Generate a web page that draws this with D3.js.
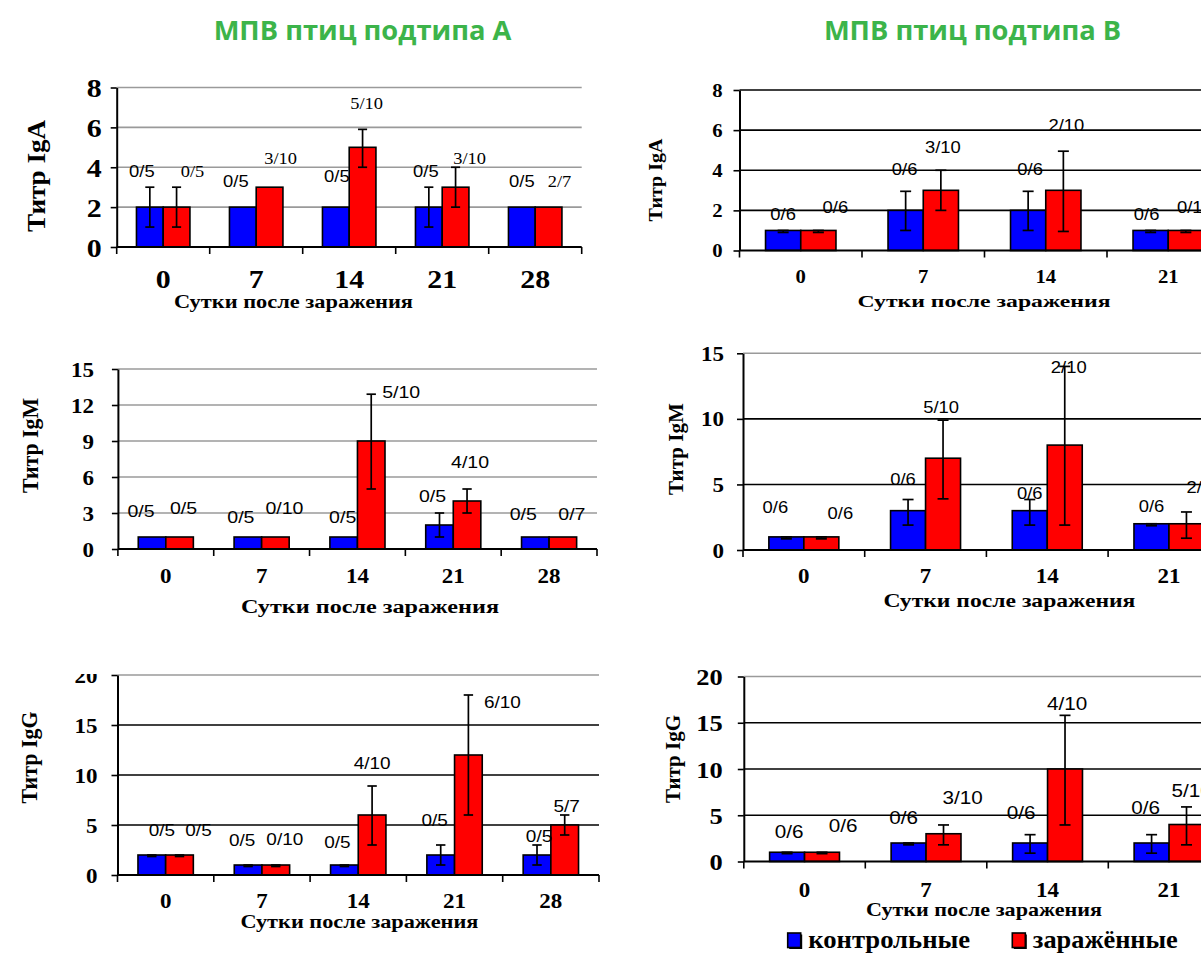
<!DOCTYPE html>
<html>
<head>
<meta charset="utf-8">
<script src="https://cdn.jsdelivr.net/npm/d3@7"></script>
<style>
  html, body { margin: 0; padding: 0; background: #fff; }
  svg { display: block; }
</style>
</head>
<body>
<svg id="fig" width="1201" height="957"></svg>
<script>
// ---------- shared categories and texts ----------
const days = ["0", "7", "14", "21", "28"];
const seriesNames = ["контрольные", "заражённые"];
const groupTitles = ["МПВ птиц подтипа А", "МПВ птиц подтипа В"];
const xTitleText = "Сутки после заражения";
const yTitles = ["Титр IgA", "Титр IgM", "Титр IgG"];

// ---------- subtype A ----------
const aIgA_ctrl = [2, 2, 2, 2, 2];
const aIgA_ctrlLo = [1, 2, 2, 1, 2];
const aIgA_ctrlHi = [3, 2, 2, 3, 2];
const aIgA_inf = [2, 3, 5, 3, 2];
const aIgA_infLo = [1, 3, 4, 2, 2];
const aIgA_infHi = [3, 3, 5.9, 4, 2];
const aIgA_ctrlTags = ["0/5", "0/5", "0/5", "0/5", "0/5"];
const aIgA_infTags = ["0/5", "3/10", "5/10", "3/10", "2/7"];
const aIgA_ticks = [0, 2, 4, 6, 8];

const aIgM_ctrl = [1, 1, 1, 2, 1];
const aIgM_ctrlLo = [1, 1, 1, 1, 1];
const aIgM_ctrlHi = [1, 1, 1, 3, 1];
const aIgM_inf = [1, 1, 9, 4, 1];
const aIgM_infLo = [1, 1, 5, 3, 1];
const aIgM_infHi = [1, 1, 12.9, 5, 1];
const aIgM_ctrlTags = ["0/5", "0/5", "0/5", "0/5", "0/5"];
const aIgM_infTags = ["0/5", "0/10", "5/10", "4/10", "0/7"];
const aIgM_ticks = [0, 3, 6, 9, 12, 15];

const aIgG_ctrl = [2, 1, 1, 2, 2];
const aIgG_ctrlLo = [1.85, 0.85, 0.85, 1, 1];
const aIgG_ctrlHi = [2, 1, 1, 3, 3];
const aIgG_inf = [2, 1, 6, 12, 5];
const aIgG_infLo = [1.85, 0.85, 3, 6, 4];
const aIgG_infHi = [2, 1, 8.9, 18, 6];
const aIgG_ctrlTags = ["0/5", "0/5", "0/5", "0/5", "0/5"];
const aIgG_infTags = ["0/5", "0/10", "4/10", "6/10", "5/7"];
const aIgG_ticks = [0, 5, 10, 15, 20];

// ---------- subtype B ----------
const bIgA_ctrl = [1, 2, 2, 1];
const bIgA_ctrlLo = [0.9, 1, 1, 0.9];
const bIgA_ctrlHi = [1, 2.95, 2.95, 1];
const bIgA_inf = [1, 3, 3, 1];
const bIgA_infLo = [0.9, 2, 0.95, 0.9];
const bIgA_infHi = [1, 4, 4.95, 1];
const bIgA_ctrlTags = ["0/6", "0/6", "0/6", "0/6"];
const bIgA_infTags = ["0/6", "3/10", "2/10", "0/10"];
const bIgA_ticks = [0, 2, 4, 6, 8];

const bIgM_ctrl = [1, 3, 3, 2];
const bIgM_ctrlLo = [0.85, 1.9, 1.9, 1.85];
const bIgM_ctrlHi = [1, 3.85, 3.85, 2];
const bIgM_inf = [1, 7, 8, 2];
const bIgM_infLo = [0.85, 3.9, 1.9, 0.9];
const bIgM_infHi = [1, 9.9, 14, 2.9];
const bIgM_ctrlTags = ["0/6", "0/6", "0/6", "0/6"];
const bIgM_infTags = ["0/6", "5/10", "2/10", "2/10"];
const bIgM_ticks = [0, 5, 10, 15];

const bIgG_ctrl = [1, 2, 2, 2];
const bIgG_ctrlLo = [0.85, 1.8, 0.9, 0.9];
const bIgG_ctrlHi = [1, 2, 2.9, 2.9];
const bIgG_inf = [1, 3, 10, 4];
const bIgG_infLo = [0.85, 1.8, 3.95, 1.8];
const bIgG_infHi = [1, 3.95, 15.8, 5.9];
const bIgG_ctrlTags = ["0/6", "0/6", "0/6", "0/6"];
const bIgG_infTags = ["0/6", "3/10", "4/10", "5/10"];
const bIgG_ticks = [0, 5, 10, 15, 20];

// ---------- styling ----------
const SERIF = '"Liberation Serif","Times New Roman",Times,serif';
const SANS = '"Liberation Sans",Arial,Helvetica,sans-serif';
const TITLE_FONT = '"Open Sans","Noto Sans",sans-serif';
const COLORS = ["#0000ff", "#ff0000"];
const GREEN = "#3cb44a";
const GRID_GRAY = "#9a9a9a";

// panel frames and annotation placement (tag heights in titre units, tag shifts in px)
const panels = [
  { name: "A-IgA", max: 8, ticks: aIgA_ticks, title: yTitles[0],
    series: [[aIgA_ctrl, aIgA_ctrlLo, aIgA_ctrlHi, aIgA_ctrlTags], [aIgA_inf, aIgA_infLo, aIgA_infHi, aIgA_infTags]],
    left: 116.7, band: 93, y0: 247, yTop: 87.5, right: 581.7, gridTop: GRID_GRAY, grid: GRID_GRAY,
    yTickFont: 26, yTickGap: 15, xTickFont: 26, xTickBase: 288,
    xTitle: { cx: 293.5, base: 308, w: 239, fs: 18 }, yTitle: { cx: 37, cy: 176, len: 112, fs: 22 },
    tagFont: 16, tagFamilies: [SANS, SERIF],
    tagDx: [[-8, -7, 1, -3, 0], [16, 11, 4, 14, 11]],
    tagAt: [[3.53, 2.99, 3.28, 3.53, 3.03], [3.53, 4.15, 6.91, 4.15, 3.02]] },
  { name: "A-IgM", max: 15, ticks: aIgM_ticks, title: yTitles[1],
    series: [[aIgM_ctrl, aIgM_ctrlLo, aIgM_ctrlHi, aIgM_ctrlTags], [aIgM_inf, aIgM_infLo, aIgM_infHi, aIgM_infTags]],
    left: 117.9, band: 95.82, y0: 549, yTop: 369, right: 597, gridTop: GRID_GRAY, grid: GRID_GRAY,
    yTickFont: 20, yTickGap: 24, xTickFont: 20, xTickBase: 583.3,
    xTitle: { cx: 370, base: 613.3, w: 258, fs: 18 }, yTitle: { cx: 30.6, cy: 445.5, len: 95, fs: 20 },
    tagFont: 17, tagFamilies: [SANS, SANS],
    tagDx: [[-11, -7, -1, -7, -12], [4, 9, 30, 3, 9]],
    tagAt: [[2.69, 2.14, 2.14, 3.94, 2.42], [2.92, 2.92, 12.56, 6.73, 2.42]] },
  { name: "A-IgG", max: 20, ticks: aIgG_ticks, title: yTitles[2], clipTop: 674,
    series: [[aIgG_ctrl, aIgG_ctrlLo, aIgG_ctrlHi, aIgG_ctrlTags], [aIgG_inf, aIgG_infLo, aIgG_infHi, aIgG_infTags]],
    left: 117.5, band: 96.3, y0: 875, yTop: 675, right: 599, gridTop: GRID_GRAY, grid: "#000",
    yTickFont: 20, yTickGap: 20, xTickFont: 20, xTickBase: 908.3,
    xTitle: { cx: 359.4, base: 928.3, w: 238, fs: 18 }, yTitle: { cx: 29.7, cy: 757.5, len: 92, fs: 20 },
    tagFont: 16.5, tagFamilies: [SANS, SANS],
    tagDx: [[10, -6, -7, -6, 2], [19, 9, 0, 34, 2]],
    tagAt: [[3.9, 2.9, 2.73, 4.93, 3.33], [3.9, 3.0, 10.57, 16.73, 6.33]] },
  { name: "B-IgA", max: 8, ticks: bIgA_ticks, title: yTitles[0],
    series: [[bIgA_ctrl, bIgA_ctrlLo, bIgA_ctrlHi, bIgA_ctrlTags], [bIgA_inf, bIgA_infLo, bIgA_infHi, bIgA_infTags]],
    left: 739.5, band: 122.5, y0: 250.5, yTop: 90, right: 1352, gridTop: "#000", grid: "#000",
    yTickFont: 18, yTickGap: 17, xTickFont: 18, xTickBase: 283.3,
    xTitle: { cx: 984, base: 306.7, w: 253, fs: 16.5 }, yTitle: { cx: 656.5, cy: 180, len: 83, fs: 17 },
    tagFont: 16, tagFamilies: [SANS, SANS],
    tagDx: [[0, -1, 2, -4], [17, 2, 3, 9]],
    tagAt: [[1.52, 3.76, 3.76, 1.52], [1.88, 4.85, 5.96, 1.88]] },
  { name: "B-IgM", max: 15, ticks: bIgM_ticks, title: yTitles[1],
    series: [[bIgM_ctrl, bIgM_ctrlLo, bIgM_ctrlHi, bIgM_ctrlTags], [bIgM_inf, bIgM_infLo, bIgM_infHi, bIgM_infTags]],
    left: 743, band: 121.7, y0: 550, yTop: 353.3, right: 1352, gridTop: GRID_GRAY, grid: "#000",
    yTickFont: 20, yTickGap: 19, xTickFont: 20, xTickBase: 583.3,
    xTitle: { cx: 1009.4, base: 606.7, w: 252, fs: 19 }, yTitle: { cx: 676.3, cy: 449, len: 92, fs: 19 },
    tagFont: 16, tagFamilies: [SANS, SANS],
    tagDx: [[-11, -5, 0, 0], [19, -2, 4, 18]],
    tagAt: [[2.8, 4.96, 3.87, 2.92], [2.36, 10.47, 13.52, 4.37]] },
  { name: "B-IgG", max: 20, ticks: bIgG_ticks, title: yTitles[2],
    series: [[bIgG_ctrl, bIgG_ctrlLo, bIgG_ctrlHi, bIgG_ctrlTags], [bIgG_inf, bIgG_infLo, bIgG_infHi, bIgG_infTags]],
    left: 743.8, band: 121.5, y0: 861.5, yTop: 676.5, right: 1352, gridTop: GRID_GRAY, grid: "#000",
    yTickFont: 23, yTickGap: 21, xTickFont: 20, xTickBase: 896.7,
    xTitle: { cx: 984, base: 915.5, w: 236, fs: 19 }, yTitle: { cx: 673, cy: 759, len: 88, fs: 19 },
    tagFont: 18, tagFamilies: [SANS, SANS],
    tagDx: [[2, -5, -9, -6], [21, 19, 2, 5]],
    tagAt: [[2.51, 4.02, 4.56, 5.14], [3.16, 6.18, 16.38, 6.94]] }
];

const TEXT_K = 1.15;      // horizontal glyph stretch used throughout the chart texts
const GROUP_FRAC = 0.575; // share of a day slot taken by the pair of bars

const svg = d3.select("#fig");
svg.append("rect").attr("width", 1201).attr("height", 957).attr("fill", "#fff");

function drawPanel(p, idx) {
  const g = svg.append("g").attr("class", "panel");
  if (p.clipTop !== undefined) {
    const id = "clip" + idx;
    svg.append("defs").append("clipPath").attr("id", id)
      .append("rect").attr("x", 0).attr("y", p.clipTop).attr("width", 1201).attr("height", 957 - p.clipTop);
    g.attr("clip-path", `url(#${id})`);
  }

  const x = d3.scaleBand().domain(days).range([p.left, p.left + p.band * days.length]);
  const y = d3.scaleLinear().domain([0, p.max]).range([p.y0, p.yTop]);
  const groupW = x.bandwidth() * GROUP_FRAC;
  const inner = d3.scaleBand().domain([0, 1]).range([(x.bandwidth() - groupW) / 2, (x.bandwidth() + groupW) / 2]);
  const barCenter = (d, s) => x(d) + inner(s) + inner.bandwidth() / 2;

  // horizontal grid
  g.append("g").selectAll("line").data(p.ticks.filter(t => t > 0)).join("line")
    .attr("x1", p.left).attr("x2", p.right)
    .attr("y1", d => y(d)).attr("y2", d => y(d))
    .attr("stroke", d => d === p.max ? p.gridTop : p.grid)
    .attr("stroke-width", 1.6);

  // bars
  p.series.forEach(([vals], s) => {
    g.append("g").selectAll("rect").data(vals).join("rect")
      .attr("x", (v, i) => x(days[i]) + inner(s))
      .attr("width", inner.bandwidth())
      .attr("y", v => y(v))
      .attr("height", v => y(0) - y(v))
      .attr("fill", COLORS[s])
      .attr("stroke", "#000").attr("stroke-width", 1.6);
  });

  // error bars
  const capW = Math.min(11, inner.bandwidth() * 0.34);
  p.series.forEach(([vals, lo, hi], s) => {
    const eg = g.append("g").attr("stroke", "#000").attr("stroke-width", 1.7);
    vals.forEach((v, i) => {
      if (hi[i] - lo[i] <= 0) return;
      const cx = barCenter(days[i], s);
      eg.append("line").attr("x1", cx).attr("x2", cx).attr("y1", y(lo[i])).attr("y2", y(hi[i]));
      [lo[i], hi[i]].forEach(e => {
        eg.append("line").attr("x1", cx - capW / 2).attr("x2", cx + capW / 2).attr("y1", y(e)).attr("y2", y(e));
      });
    });
  });

  // y axis
  const yAxis = d3.axisLeft(y).tickValues(p.ticks).tickSize(6).tickSizeOuter(0).tickFormat(d3.format("d"));
  const ya = g.append("g").attr("transform", `translate(${p.left},0)`).call(yAxis);
  ya.select(".domain").attr("stroke-width", 2);
  ya.selectAll(".tick line").attr("stroke-width", 1.6);
  ya.selectAll(".tick text")
    .attr("x", 0).attr("dy", "0.35em")
    .attr("transform", `translate(${-p.yTickGap},0) scale(${TEXT_K},1)`)
    .attr("font-family", SERIF).attr("font-weight", "bold").attr("font-size", p.yTickFont)
    .attr("fill", "#000");

  // x axis line with slot boundary ticks
  g.append("line").attr("x1", p.left).attr("x2", p.right).attr("y1", y(0)).attr("y2", y(0))
    .attr("stroke", "#000").attr("stroke-width", 2);
  const bounds = days.map(d => x(d)).concat([x.range()[1]]);
  g.append("g").selectAll("line").data(bounds).join("line")
    .attr("x1", d => d).attr("x2", d => d).attr("y1", y(0)).attr("y2", y(0) + 7)
    .attr("stroke", "#000").attr("stroke-width", 1.6);
  g.append("g").selectAll("text").data(days).join("text")
    .attr("transform", d => `translate(${x(d) + x.bandwidth() / 2},${p.xTickBase}) scale(${TEXT_K},1)`)
    .attr("text-anchor", "middle")
    .attr("font-family", SERIF).attr("font-weight", "bold").attr("font-size", p.xTickFont)
    .text(d => d);

  // ratio tags above the bars
  p.series.forEach(([vals, , , tags], s) => {
    g.append("g").selectAll("text").data(tags).join("text")
      .attr("transform", (t, i) => `translate(${barCenter(days[i], s) + p.tagDx[s][i]},${y(p.tagAt[s][i])}) scale(${TEXT_K},1)`)
      .attr("text-anchor", "middle")
      .attr("font-family", p.tagFamilies[s]).attr("font-size", p.tagFont)
      .text(t => t);
  });

  // axis titles
  g.append("text")
    .attr("x", p.xTitle.cx - p.xTitle.w / 2).attr("y", p.xTitle.base)
    .attr("textLength", p.xTitle.w).attr("lengthAdjust", "spacingAndGlyphs")
    .attr("font-family", SERIF).attr("font-weight", "bold").attr("font-size", p.xTitle.fs)
    .text(xTitleText);
  g.append("text")
    .attr("transform", `translate(${p.yTitle.cx},${p.yTitle.cy}) scale(${TEXT_K},1) rotate(-90)`)
    .attr("x", -p.yTitle.len / 2).attr("dy", "0.3em")
    .attr("textLength", p.yTitle.len).attr("lengthAdjust", "spacingAndGlyphs")
    .attr("font-family", SERIF).attr("font-weight", "bold").attr("font-size", p.yTitle.fs)
    .text(p.title);
}

panels.forEach(drawPanel);

// column headings
const headX = [362.5, 972.5];
svg.append("g").selectAll("text").data(groupTitles).join("text")
  .attr("x", (t, i) => headX[i]).attr("y", 39.5)
  .attr("text-anchor", "middle")
  .attr("font-family", TITLE_FONT).attr("font-weight", 700).attr("font-size", 27.3)
  .attr("fill", GREEN)
  .text(t => t);

// legend: swatches with a slight dark offset edge, then labels
const legendX = [787.7, 1012.3];
const legendW = [162, 145];
const lg = svg.append("g");
lg.selectAll("rect.shadow").data(seriesNames).join("rect").attr("class", "shadow")
  .attr("x", (d, i) => legendX[i] + 1.5).attr("y", 934.5).attr("width", 13).attr("height", 14.5)
  .attr("fill", "#000");
lg.selectAll("rect.swatch").data(seriesNames).join("rect").attr("class", "swatch")
  .attr("x", (d, i) => legendX[i]).attr("y", 933).attr("width", 13).attr("height", 14.5)
  .attr("fill", (d, i) => COLORS[i]).attr("stroke", "#000").attr("stroke-width", 1.6);
lg.selectAll("text").data(seriesNames).join("text")
  .attr("x", (d, i) => legendX[i] + 20.5).attr("y", 948.3)
  .attr("textLength", (d, i) => legendW[i]).attr("lengthAdjust", "spacingAndGlyphs")
  .attr("font-family", SERIF).attr("font-weight", "bold").attr("font-size", 26)
  .text(d => d);
</script>
</body>
</html>
